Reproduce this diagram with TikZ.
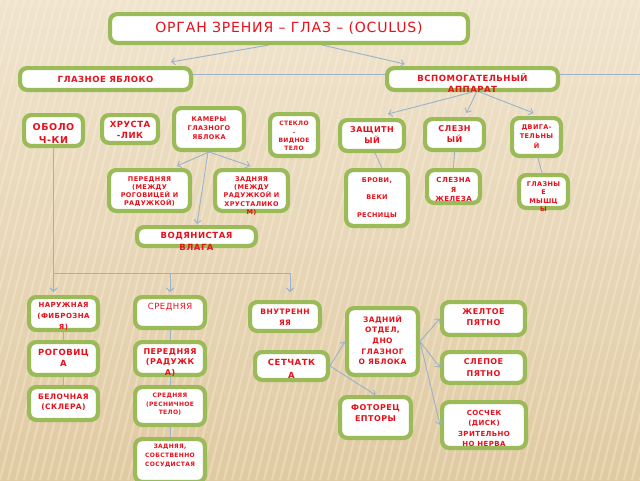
\documentclass[tikz,border=0pt]{standalone}
\usepackage{fontspec}
\setmainfont{DejaVu Sans}[LetterSpace=6]
\usetikzlibrary{arrows.meta,calc}
\definecolor{boxgreen}{RGB}{155,187,89}
\definecolor{txtred}{RGB}{232,16,26}
\definecolor{lnblue}{RGB}{155,178,202}
\definecolor{bgtop}{RGB}{240,228,206}
\definecolor{bgbot}{RGB}{224,202,162}
\definecolor{stripe}{RGB}{250,242,226}
\newcommand\fs[2]{\fontsize{#1}{#2}\selectfont}
\tikzset{
  box/.style={draw=boxgreen, line width=4.2pt, fill=white, rounded corners=7pt, inner sep=0pt},
  txt/.style={text=txtred, align=center, inner sep=0pt},
  ln/.style={draw=lnblue, line width=0.9pt},
  arr/.style={ln, -{Straight Barb[length=3.5pt,width=7pt]}},
}
\newcommand\bx[8]{%
  \node[box, minimum width={(#4-#2-4.2)*1pt}, minimum height={(#5-#3-4.2)*1pt}] (#1) at ({(#2+#4)/2},{(#3+#5)/2}) {};
  \node[txt, font={#7}] (#1t) at ([yshift=#6pt]#1.center) {#8};
}
\begin{document}
\begin{tikzpicture}[x=1pt,y=-1pt]
\useasboundingbox (0,0) rectangle (640,480);
\shade[top color=bgtop, bottom color=bgbot] (0,0) rectangle (640,480);
\begin{scope}
\clip (0,0) rectangle (640,480);
\foreach \i in {-240,-232,...,640} \draw[stripe, opacity=0.35, line width=2pt] (\i,480) -- (\i+120,0);
\end{scope}

\bx{title}{108}{12}{470}{45}{0}{\fs{14}{16}}{ОРГАН ЗРЕНИЯ – ГЛАЗ – (OCULUS)}
\bx{glaz}{18}{66}{193}{92}{0}{\bfseries\fs{8.5}{10}}{ГЛАЗНОЕ ЯБЛОКО}
\bx{vsp}{385}{66}{560}{92}{-4.5}{\bfseries\fs{8.5}{11}}{ВСПОМОГАТЕЛЬНЫЙ\\АППАРАТ}

\bx{obol}{22}{113}{85}{148}{-3}{\bfseries\fs{9.5}{12.5}}{ОБОЛО\\Ч-КИ}
\bx{hrus}{100}{113}{160}{145}{-1}{\bfseries\fs{8.5}{10.5}}{ХРУСТА\\-ЛИК}
\bx{kam}{172}{106}{246}{152}{1}{\bfseries\fs{6.5}{9}}{КАМЕРЫ\\ГЛАЗНОГО\\ЯБЛОКА}
\bx{stek}{268}{112}{320}{158}{-1}{\bfseries\fs{6}{8.3}}{СТЕКЛО\\-\\ВИДНОЕ\\ТЕЛО}
\bx{zash}{338}{118}{406}{153}{0}{\bfseries\fs{8}{11}}{ЗАЩИТН\\ЫЙ}
\bx{slez}{423}{117}{486}{152}{0}{\bfseries\fs{8}{11}}{СЛЕЗН\\ЫЙ}
\bx{dvig}{510}{116}{563}{158}{0.5}{\bfseries\fs{6.5}{9.5}}{ДВИГА-\\ТЕЛЬНЫ\\Й}

\bx{pered}{107}{168}{192}{213}{-1.5}{\bfseries\fs{6.5}{8}}{ПЕРЕДНЯЯ\\(МЕЖДУ\\РОГОВИЦЕЙ И\\РАДУЖКОЙ)}
\bx{zadn}{213}{168}{290}{213}{-5.5}{\bfseries\fs{6.5}{8.2}}{ЗАДНЯЯ\\(МЕЖДУ\\РАДУЖКОЙ И\\ХРУСТАЛИКО\\М)}
\bx{brovi}{344}{168}{410}{228}{0}{\bfseries\fs{6.5}{17.5}}{БРОВИ,\\ВЕКИ\\РЕСНИЦЫ}
\bx{zhel}{425}{168}{482}{205}{-3}{\bfseries\fs{7}{9.5}}{СЛЕЗНА\\Я\\ЖЕЛЕЗА}
\bx{mysh}{517}{173}{570}{210}{-5}{\bfseries\fs{6.5}{8.3}}{ГЛАЗНЫ\\Е\\МЫШЦ\\Ы}
\bx{vod}{135}{225}{258}{248}{-4.5}{\bfseries\fs{8.5}{12}}{ВОДЯНИСТАЯ\\ВЛАГА}

\bx{naruzh}{27}{295}{100}{332}{-2.5}{\bfseries\fs{7}{11}}{НАРУЖНАЯ\\(ФИБРОЗНА\\Я)}
\bx{sred}{133}{295}{207}{330}{5.5}{\fs{8.5}{10}}{СРЕДНЯЯ}
\bx{vnutr}{248}{300}{322}{333}{-1}{\bfseries\fs{7.5}{11}}{ВНУТРЕНН\\ЯЯ}
\bx{zad}{345}{306}{420}{377}{1.5}{\bfseries\fs{7.5}{10.7}}{ЗАДНИЙ\\ОТДЕЛ,\\ДНО\\ГЛАЗНОГ\\О ЯБЛОКА}
\bx{zhelt}{440}{300}{527}{337}{1}{\bfseries\fs{8}{11}}{ЖЕЛТОЕ\\ПЯТНО}
\bx{rogov}{27}{340}{100}{377}{1}{\bfseries\fs{8.5}{11}}{РОГОВИЦ\\А}
\bx{peredR}{133}{340}{207}{377}{-4}{\bfseries\fs{8}{10.5}}{ПЕРЕДНЯЯ\\(РАДУЖК\\А)}
\bx{setch}{253}{350}{330}{382}{-2.5}{\bfseries\fs{8.5}{13}}{СЕТЧАТК\\А}
\bx{slep}{440}{350}{527}{385}{-0.5}{\bfseries\fs{8}{12}}{СЛЕПОЕ\\ПЯТНО}
\bx{beloch}{27}{385}{100}{422}{1.5}{\bfseries\fs{7.5}{10}}{БЕЛОЧНАЯ\\(СКЛЕРА)}
\bx{sredR}{133}{385}{207}{427}{1.5}{\bfseries\fs{6}{8.5}}{СРЕДНЯЯ\\(РЕСНИЧНОЕ\\ТЕЛО)}
\bx{foto}{338}{395}{413}{440}{4}{\bfseries\fs{8}{11}}{ФОТОРЕЦ\\ЕПТОРЫ}
\bx{sosch}{440}{400}{528}{450}{-3.5}{\bfseries\fs{7}{10.3}}{СОСЧЕК\\(ДИСК)\\ЗРИТЕЛЬНО\\НО НЕРВА}
\bx{zadS}{133}{437}{207}{484}{5}{\bfseries\fs{6}{9}}{ЗАДНЯЯ,\\СОБСТВЕННО\\СОСУДИСТАЯ}

% top connectors
\draw[arr] ([xshift=-20pt]title.south) -- ([xshift=65.5pt,yshift=4pt]glaz.north);
\draw[arr] ([xshift=33pt]title.south) -- ([xshift=-68pt,yshift=2pt]vsp.north);
\draw[ln] ([yshift=5pt]glaz.east) -- ([yshift=5pt]vsp.west);
\coordinate (redge) at (640,74);
\draw[ln] ([yshift=5pt]vsp.east) -- (redge);

\draw[arr] (vsp.south) -- ([xshift=16pt,yshift=4pt]zash.north);
\draw[arr] ([xshift=4pt]vsp.south) -- ([xshift=12pt,yshift=4pt]slez.north);
\draw[arr] ([xshift=7pt]vsp.south) -- ([xshift=-3pt,yshift=3pt]dvig.north);

\draw[arr] (kam.south) -- ([xshift=27.5pt,yshift=2pt]pered.north);
\draw[arr] (kam.south) -- ([xshift=-1.5pt,yshift=2pt]zadn.north);
\draw[arr] ([xshift=-1pt]kam.south) -- ([xshift=0.5pt,yshift=1pt]vod.north);

\draw[ln] ([xshift=3pt]zash.south) -- ([xshift=5pt]brovi.north);
\draw[ln] (slez.south) -- (zhel.north);
\draw[ln] ([xshift=1.5pt]dvig.south) -- ([xshift=-1.5pt]mysh.north);

% membranes bus
\coordinate (busL) at (53.5,273);
\coordinate (busR) at (290,273);
\draw[ln] (obol.south) -- (busL) -- (busR);
\draw[arr] (busL) -- ([xshift=-10pt,yshift=3pt]naruzh.north);
\draw[arr] (busL -| sred.north) -- ([yshift=3pt]sred.north);
\draw[arr] (busR) -- ([xshift=5pt,yshift=8pt]vnutr.north);

\draw[ln] (naruzh.south) -- (rogov.north);
\draw[ln] (rogov.south) -- (beloch.north);
\draw[ln] (sred.south) -- (peredR.north);
\draw[ln] (peredR.south) -- (sredR.north);
\draw[ln] (sredR.south) -- (zadS.north);

% retina
\draw[arr] (setch.east) -- (zad.west);
\draw[arr] (setch.east) -- (foto.north);
\draw[arr] (zad.east) -- (zhelt.west);
\draw[arr] (zad.east) -- (slep.west);
\draw[arr] (zad.east) -- (sosch.west);
\end{tikzpicture}
\end{document}
